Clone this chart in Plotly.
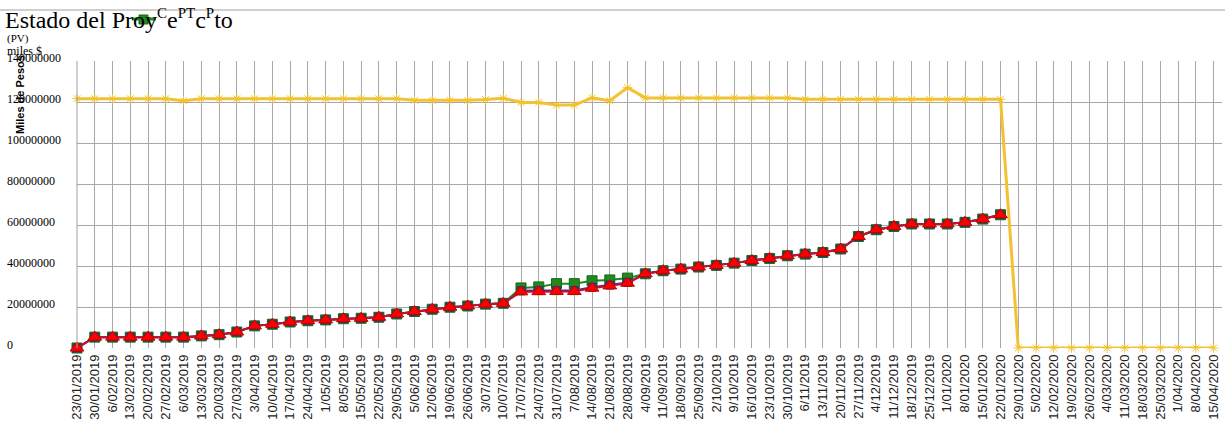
import plotly.graph_objects as go

categories = ["23/01/2019", "30/01/2019", "6/02/2019", "13/02/2019", "20/02/2019", "27/02/2019",
              "6/03/2019", "13/03/2019", "20/03/2019", "27/03/2019", "3/04/2019", "10/04/2019",
              "17/04/2019", "24/04/2019", "1/05/2019", "8/05/2019", "15/05/2019", "22/05/2019",
              "29/05/2019", "5/06/2019", "12/06/2019", "19/06/2019", "26/06/2019", "3/07/2019",
              "10/07/2019", "17/07/2019", "24/07/2019", "31/07/2019", "7/08/2019", "14/08/2019",
              "21/08/2019", "28/08/2019", "4/09/2019", "11/09/2019", "18/09/2019", "25/09/2019",
              "2/10/2019", "9/10/2019", "16/10/2019", "23/10/2019", "30/10/2019", "6/11/2019",
              "13/11/2019", "20/11/2019", "27/11/2019", "4/12/2019", "11/12/2019", "18/12/2019",
              "25/12/2019", "1/01/2020", "8/01/2020", "15/01/2020", "22/01/2020", "29/01/2020",
              "5/02/2020", "12/02/2020", "19/02/2020", "26/02/2020", "4/03/2020", "11/03/2020",
              "18/03/2020", "25/03/2020", "1/04/2020", "8/04/2020", "15/04/2020"]

# values in millions of pesos (scaled below)
red_m = [0, 5.3, 5.3, 5.3, 5.3, 5.3, 5.3, 5.9, 6.5, 7.8, 10.8, 11.6, 12.7, 13.3, 13.7, 14.3,
         14.5, 15.0, 16.6, 17.8, 18.9, 19.9, 20.5, 21.4, 21.8, 27.4, 27.5, 27.6, 27.6, 29.2,
         30.3, 31.6, 36.2, 37.7, 38.5, 39.5, 40.3, 41.4, 42.7, 43.7, 45.0, 45.8, 46.6, 48.3,
         54.4, 57.7, 59.3, 60.5, 60.5, 60.5, 61.3, 62.9, 65.0]
green_m = [0, 5.3, 5.3, 5.3, 5.3, 5.3, 5.3, 5.9, 6.5, 7.8, 10.8, 11.6, 12.7, 13.3, 13.7, 14.3,
           14.5, 15.0, 16.6, 17.8, 18.9, 19.9, 20.5, 21.4, 21.8, 29.3, 29.8, 31.4, 31.4, 32.8,
           33.2, 34.1, 36.2, 37.7, 38.5, 39.5, 40.3, 41.4, 42.7, 43.7, 45.0, 45.8, 46.6, 48.3,
           54.4, 57.7, 59.3, 60.5, 60.5, 60.5, 61.3, 62.9, 65.0]
blue_m = [0, 5.3, 5.3, 5.3, 5.3, 5.3, 5.3, 5.9, 6.5, 7.8, 10.8, 11.6, 12.7, 13.3, 13.7, 14.3,
          14.5, 15.0, 16.6, 17.8, 18.9, 19.9, 20.5, 21.4, 21.8, 27.9, 28.0, 28.0, 28.0, 29.6,
          30.7, 32.0, 36.2, 37.7, 38.5, 39.5, 40.3, 41.4, 42.7, 43.7, 45.0, 45.8, 46.6, 48.3,
          54.4, 57.7, 59.3, 60.5, 60.5, 60.5, 61.3, 62.9, 65.0]
yellow_m = [121.6, 121.6, 121.6, 121.6, 121.6, 121.6, 120.6, 121.6, 121.6, 121.6, 121.6, 121.6,
            121.6, 121.6, 121.6, 121.6, 121.6, 121.6, 121.6, 120.8, 120.8, 120.8, 120.8, 121.2,
            121.8, 119.8, 119.8, 118.5, 118.5, 122.0, 120.6, 127.0, 122.0, 122.0, 122.0, 122.0,
            122.0, 122.0, 122.0, 122.0, 122.0, 121.3, 121.3, 121.3, 121.3, 121.3, 121.3, 121.3,
            121.3, 121.3, 121.3, 121.3, 121.3, 0, 0, 0, 0, 0, 0, 0, 0, 0, 0, 0, 0]

y_ticks = [0, 20000000, 40000000, 60000000, 80000000, 100000000, 120000000, 140000000]


def scale(vals):
    return [v * 1e6 for v in vals]


W, H = 1225, 428
L, R, T, B = 77, 3, 61, 80
PW, PH = W - L - R, H - T - B


def px_x(p):
    return (p - L) / PW


def px_y(p):
    return (H - B - p) / PH


fig = go.Figure()

fig.add_trace(go.Scatter(
    x=categories, y=scale(yellow_m), mode="lines+markers", name="PV",
    line=dict(color="#F2C230", width=3),
    marker=dict(symbol="asterisk-open", size=8, line=dict(color="#F7D766", width=1)),
    cliponaxis=False))
fig.add_trace(go.Scatter(
    x=categories[:len(green_m)], y=scale(green_m), mode="lines+markers", name="C",
    line=dict(color="#1F8A1F", width=2),
    marker=dict(symbol="square", size=10, color="#1F8A1F", line=dict(color="#176617", width=1)),
    cliponaxis=False))
fig.add_trace(go.Scatter(
    x=categories[:len(blue_m)], y=scale(blue_m), mode="lines+markers", name="PT",
    line=dict(color="#4B2D8F", width=2),
    marker=dict(symbol="square", size=8, color="#44407E", line=dict(color="#33306A", width=1)),
    cliponaxis=False))
fig.add_trace(go.Scatter(
    x=categories[:len(red_m)], y=scale(red_m), mode="lines+markers", name="P",
    line=dict(color="#C8102E", width=2),
    marker=dict(symbol="triangle-up", size=12, color="#FF0000", line=dict(color="#C00000", width=1)),
    cliponaxis=False))

annotations = []
for v in y_ticks:
    annotations.append(dict(
        x=px_x(5), xref="paper", y=v, yref="y", xanchor="left", yanchor="middle",
        yshift=3, text=str(v), showarrow=False,
        font=dict(family="Liberation Serif", size=12, color="#000000")))

sup = "<sup><span style='font-size:15px'>{}</span></sup>"
title_text = ("Estado del Proy" + sup.format("C") + "e" + sup.format("PT") + "c"
              + sup.format("P") + "to")

annotations += [
    dict(x=px_x(5), xref="paper", y=px_y(38), yref="paper", xanchor="left", yanchor="middle",
         text="(PV)", showarrow=False, font=dict(family="Liberation Serif", size=11, color="#000")),
    dict(x=px_x(5), xref="paper", y=px_y(51), yref="paper", xanchor="left", yanchor="middle",
         text="miles $", showarrow=False, font=dict(family="Liberation Serif", size=12, color="#000")),
    dict(x=px_x(20), xref="paper", y=px_y(95), yref="paper", xanchor="center", yanchor="middle",
         text="<b>Miles de Pesos</b>", textangle=-90, showarrow=False,
         font=dict(family="Liberation Sans", size=11, color="#000")),
    dict(x=px_x(3), xref="paper", y=px_y(19), yref="paper", xanchor="left", yanchor="middle",
         text=title_text, showarrow=False,
         font=dict(family="Liberation Serif", size=24, color="#000")),
]

shapes = [
    dict(type="line", xref="paper", yref="paper", x0=px_x(0), x1=px_x(1225), y0=px_y(10), y1=px_y(10),
         line=dict(color="#A0A0A0", width=1), layer="below"),
    dict(type="line", xref="paper", yref="paper", x0=px_x(132), x1=px_x(156), y0=px_y(19), y1=px_y(19),
         line=dict(color="#1F8A1F", width=3)),
    dict(type="rect", xref="paper", yref="paper", x0=px_x(139), x1=px_x(148), y0=px_y(15), y1=px_y(24),
         fillcolor="#1F8A1F", line=dict(color="#176617", width=1)),
    dict(type="line", xref="paper", yref="paper", x0=0, x1=0, y0=0, y1=1,
         line=dict(color="#A0A0A0", width=1)),
]

fig.update_layout(
    width=W, height=H,
    margin=dict(l=L, r=R, t=T, b=B, pad=0),
    paper_bgcolor="white", plot_bgcolor="white",
    showlegend=False,
    annotations=annotations, shapes=shapes,
    xaxis=dict(type="category", range=[0, 64.47], showgrid=True, gridcolor="#A8A8A8", gridwidth=1,
               tickangle=-90, tickfont=dict(family="Liberation Sans", size=13, color="#222"),
               ticks="", zeroline=False, showline=False, ticklabelstandoff=3),
    yaxis=dict(range=[0, 140000000], tickvals=y_ticks, showticklabels=False, showgrid=True,
               gridcolor="#A8A8A8", gridwidth=1, zeroline=False, showline=False, ticks=""),
)

fig.write_html("out.html", config={"displayModeBar": False},
               post_script="document.body.style.margin='0px';")
